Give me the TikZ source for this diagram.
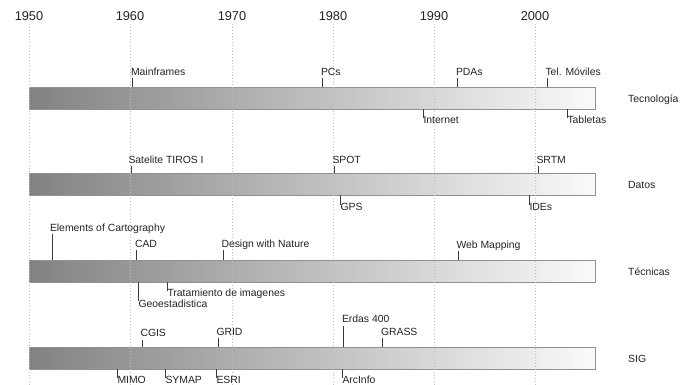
\documentclass[tikz,border=0pt]{standalone}
\usepackage{fontspec}
\setmainfont{Liberation Sans}
\definecolor{barleft}{RGB}{130,130,130}
\definecolor{barright}{RGB}{250,250,250}
\definecolor{barline}{RGB}{145,145,145}
\definecolor{gridgray}{RGB}{190,190,190}
\definecolor{ink}{RGB}{35,35,35}
\definecolor{tickgray}{RGB}{60,60,60}
\usetikzlibrary{calc}

\begin{document}
\begin{tikzpicture}[x=1pt,y=-1pt,
    yearlbl/.style={font=\fontsize{12.8}{14}\selectfont,text=ink,inner sep=0pt,outer sep=3pt,anchor=base},
    gridln/.style={gridgray,line width=1pt,dash pattern=on 1pt off 2pt},
    bar/.style={draw=barline,line width=0.9pt,left color=barleft,right color=barright,
      minimum width=566pt,minimum height=22pt,inner sep=0pt,outer sep=0pt},
    evt/.style={font=\fontsize{10.4}{12}\selectfont,text=ink,inner sep=0pt,
      outer xsep=0pt,outer ysep=2.5pt,text height=6pt,text depth=0pt},
    evtup/.style={evt,anchor=base west},
    evtdn/.style={evt,anchor=base west,outer ysep=0pt},
    rowlbl/.style={font=\fontsize{10.4}{12}\selectfont,text=ink,inner sep=0pt,anchor=base west},
    tick/.style={tickgray,line width=0.9pt}]
  \useasboundingbox (0,0) rectangle (681,385);

  % bars
  \node[bar] (bartec) at (312,98.5) {};
  \node[bar] (bardat) at (312,184.5) {};
  \node[bar] (bartcn) at (312,271.5) {};
  \node[bar] (barsig) at (312,358) {};
  \node[rowlbl] (ltec) at (628,102.5) {Tecnología};
  \node[rowlbl] (ldat) at (628,188.5) {Datos};
  \node[rowlbl] (ltcn) at (628,275.5) {Técnicas};
  \node[rowlbl] (lsig) at (628,362) {SIG};

  % decades
  \foreach \yr/\x in {1950/29,1960/130,1970/232,1980/333,1990/434,2000/535}{
    \node[yearlbl] (y\yr) at (\x,21) {\yr};
    \coordinate (e\yr) at (\x,386);
    \draw[gridln] (y\yr.south) -- (e\yr);
  }

  % Tecnologia
  \coordinate (mf) at (132,87.5);
  \node[evtup] (mfl) at (131,76) {Mainframes};
  \draw[tick] (mf) -- (mf |- mfl.south);
  \coordinate (pc) at (322,87.5);
  \node[evtup] (pcl) at (321,76) {PCs};
  \draw[tick] (pc) -- (pc |- pcl.south);
  \coordinate (pda) at (457,87.5);
  \node[evtup] (pdal) at (456,76) {PDAs};
  \draw[tick] (pda) -- (pda |- pdal.south);
  \coordinate (tel) at (547,87.5);
  \node[evtup] (tell) at (545.5,76) {Tel. Móviles};
  \draw[tick] (tel) -- (tel |- tell.south);
  \coordinate (inet) at (423,109.5);
  \node[evtdn] (inetl) at (423.5,124) {Internet};
  \draw[tick] (inet) -- (inet |- inetl.north);
  \coordinate (tab) at (567,109.5);
  \node[evtdn] (tabl) at (567.5,124) {Tabletas};
  \draw[tick] (tab) -- (tab |- tabl.north);

  % Datos
  \coordinate (tiros) at (131,173.5);
  \node[evtup] (tirosl) at (128.5,164) {Satelite TIROS I};
  \draw[tick] (tiros) -- (tiros |- tirosl.south);
  \coordinate (spot) at (334,173.5);
  \node[evtup] (spotl) at (332.5,164) {SPOT};
  \draw[tick] (spot) -- (spot |- spotl.south);
  \coordinate (srtm) at (538,173.5);
  \node[evtup] (srtml) at (536.5,164) {SRTM};
  \draw[tick] (srtm) -- (srtm |- srtml.south);
  \coordinate (gps) at (340,195.5);
  \node[evtdn] (gpsl) at (340.5,211) {GPS};
  \draw[tick] (gps) -- (gps |- gpsl.north);
  \coordinate (ide) at (529,195.5);
  \node[evtdn] (idel) at (529.5,211) {IDEs};
  \draw[tick] (ide) -- (ide |- idel.north);

  % Tecnicas
  \coordinate (carto) at (52,260.5);
  \node[evtup] (cartol) at (50,232) {Elements of Cartography};
  \draw[tick] (carto) -- (carto |- cartol.south);
  \coordinate (cad) at (136,260.5);
  \node[evtup] (cadl) at (135,248) {CAD};
  \draw[tick] (cad) -- (cad |- cadl.south);
  \coordinate (dwn) at (223,260.5);
  \node[evtup] (dwnl) at (221.5,248) {Design with Nature};
  \draw[tick] (dwn) -- (dwn |- dwnl.south);
  \coordinate (web) at (458,260.5);
  \node[evtup] (webl) at (456.5,249) {Web Mapping};
  \draw[tick] (web) -- (web |- webl.south);
  \coordinate (trat) at (167,282.5);
  \node[evtdn] (tratl) at (167.5,297) {Tratamiento de imagenes};
  \draw[tick] (trat) -- (trat |- tratl.north);
  \coordinate (geo) at (138,282.5);
  \node[evtdn] (geol) at (138.5,307) {Geoestadistica};
  \draw[tick] (geo) -- (geo |- geol.north);

  % SIG
  \coordinate (cgis) at (142,347);
  \node[evtup] (cgisl) at (140.5,337) {CGIS};
  \draw[tick] (cgis) -- (cgis |- cgisl.south);
  \coordinate (grid) at (218,347);
  \node[evtup] (gridl) at (216.5,335) {GRID};
  \draw[tick] (grid) -- (grid |- gridl.south);
  \coordinate (erdas) at (343,347);
  \node[evtup] (erdasl) at (342,323) {Erdas 400};
  \draw[tick] (erdas) -- (erdas |- erdasl.south);
  \coordinate (grass) at (382,347);
  \node[evtup] (grassl) at (381,335) {GRASS};
  \draw[tick] (grass) -- (grass |- grassl.south);
  \coordinate (mimo) at (117,369);
  \node[evtdn] (mimol) at (117.5,383.5) {MIMO};
  \draw[tick] (mimo) -- (mimo |- mimol.north);
  \coordinate (symap) at (165,369);
  \node[evtdn] (symapl) at (165.5,383.5) {SYMAP};
  \draw[tick] (symap) -- (symap |- symapl.north);
  \coordinate (esri) at (216,369);
  \node[evtdn] (esril) at (216.5,383.5) {ESRI};
  \draw[tick] (esri) -- (esri |- esril.north);
  \coordinate (arc) at (342,369);
  \node[evtdn] (arcl) at (342.5,383.5) {ArcInfo};
  \draw[tick] (arc) -- (arc |- arcl.north);
\end{tikzpicture}
\end{document}
